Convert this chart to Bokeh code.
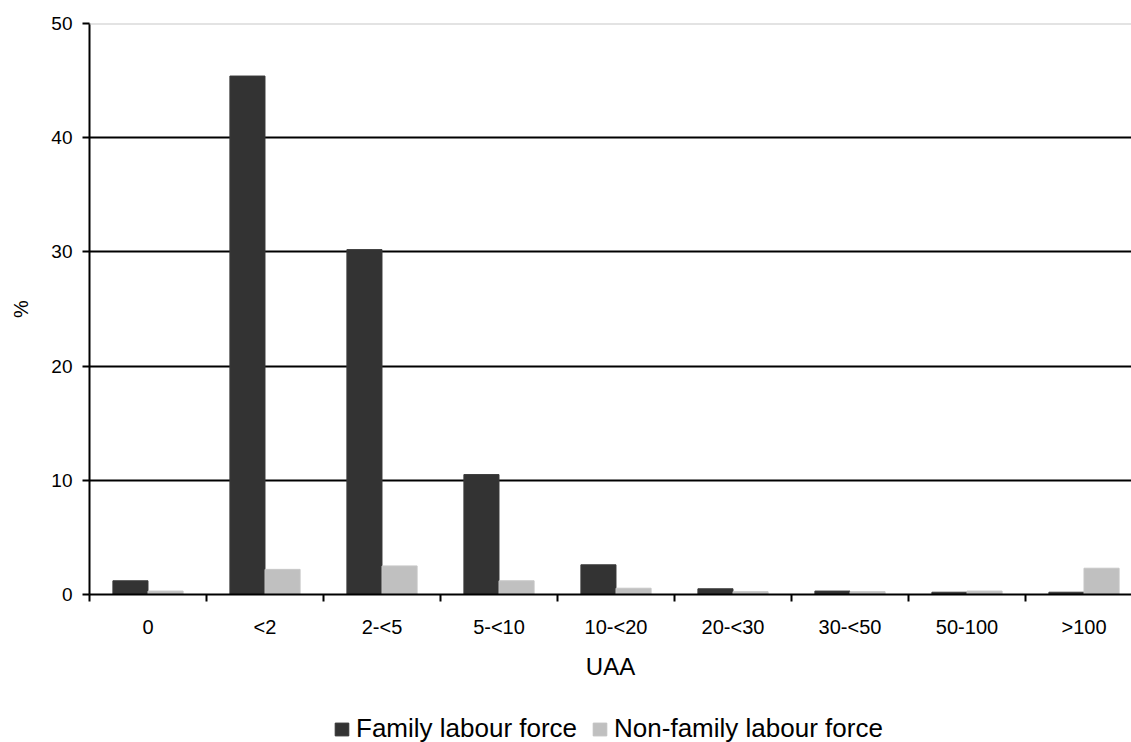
import numpy as np
from bokeh.plotting import figure
from bokeh.layouts import column
from bokeh.models import Range1d, FixedTicker, Span, Legend, LegendItem, ColumnDataSource
from bokeh.transform import dodge
from bokeh.embed import file_html
from bokeh.resources import INLINE

categories = ["0", "<2", "2-<5", "5-<10", "10-<20", "20-<30", "30-<50", "50-100", ">100"]
family = [1.2, 45.4, 30.2, 10.5, 2.6, 0.5, 0.3, 0.2, 0.2]
non_family = [0.3, 2.2, 2.5, 1.2, 0.55, 0.25, 0.25, 0.3, 2.3]
y_ticks = [0, 10, 20, 30, 40, 50]
series_names = ["Family labour force", "Non-family labour force"]

FONT = "Liberation Sans"
DARK, LIGHT = "#333333", "#c0c0c0"
n = len(categories)
centers = np.arange(n) + 0.5
src = ColumnDataSource(dict(center=centers, family=family, non_family=non_family))

p = figure(width=1131, height=706,
           x_range=Range1d(0, 8.906), y_range=Range1d(0, 50),
           output_backend="svg", toolbar_location=None,
           min_border_left=89, min_border_right=0, min_border_top=23, min_border_bottom=112)
p.outline_line_color = None
p.background_fill_color = "white"
p.border_fill_color = "white"

# grid
p.xgrid.visible = False
p.ygrid.ticker = FixedTicker(ticks=y_ticks[1:-1])
p.ygrid.grid_line_color = "black"
p.ygrid.grid_line_width = 2
top_line = Span(location=y_ticks[-1], dimension="width", line_color="#c8c8c8", line_width=2)
p.add_layout(top_line)

w = 0.3
r1 = p.vbar(x=dodge("center", -0.15, range=p.x_range), top="family", width=w, source=src,
            fill_color=DARK, line_color="#3a3a3a")
r2 = p.vbar(x=dodge("center", 0.15, range=p.x_range), top="non_family", width=w, source=src,
            fill_color=LIGHT, line_color="#c6c6c6")

# y axis
ya = p.yaxis[0]
ya.ticker = FixedTicker(ticks=y_ticks)
ya.axis_line_width = 2
ya.axis_line_color = "black"
ya.major_tick_out = 7
ya.major_tick_in = 0
ya.major_tick_line_width = 2
ya.minor_tick_line_color = None
ya.major_label_text_font = FONT
ya.major_label_text_font_size = "19px"
ya.major_label_text_color = "black"
ya.major_label_standoff = 10
ya.axis_label = "%"
ya.axis_label_text_font = FONT
ya.axis_label_text_font_size = "20px"
ya.axis_label_text_font_style = "normal"
ya.axis_label_text_color = "black"
ya.axis_label_standoff = 16

# x axis: labels at category centres, tick marks at boundaries
xa = p.xaxis[0]
xa.ticker = FixedTicker(ticks=list(centers), minor_ticks=list(np.arange(n + 1)))
xa.major_label_overrides = {float(c): lab for c, lab in zip(centers, categories)}
xa.major_tick_line_color = None
xa.major_tick_out = 0
xa.major_tick_in = 0
xa.minor_tick_out = 7
xa.minor_tick_in = 0
xa.minor_tick_line_width = 2
xa.minor_tick_line_color = "black"
xa.axis_line_width = 2
xa.axis_line_color = "black"
xa.major_label_text_font = FONT
xa.major_label_text_font_size = "20px"
xa.major_label_text_color = "black"
xa.major_label_standoff = 14
xa.axis_label = "UAA"
xa.axis_label_text_font = FONT
xa.axis_label_text_font_size = "24px"
xa.axis_label_text_font_style = "normal"
xa.axis_label_text_color = "black"
xa.axis_label_standoff = 12

# legend strip below the chart (its frame is aligned with the chart's frame)
lg = figure(width=1131, height=36, x_range=Range1d(0, 1), y_range=Range1d(0, 1),
            output_backend="svg", toolbar_location=None,
            x_axis_location=None, y_axis_location=None,
            min_border_left=0, min_border_right=0, min_border_top=0, min_border_bottom=0)
lg.outline_line_color = None
lg.xgrid.visible = False
lg.ygrid.visible = False
# legend-only renderers: one NaN row each, so nothing is drawn but the key swatch
nan_src = ColumnDataSource(dict(l=np.array([np.nan]), r=np.array([np.nan]),
                                b=np.array([np.nan]), t=np.array([np.nan])))
l1 = lg.quad(left="l", right="r", bottom="b", top="t", source=nan_src, fill_color=DARK, line_color=DARK)
l2 = lg.quad(left="l", right="r", bottom="b", top="t", source=nan_src, fill_color=LIGHT, line_color=LIGHT)
legend = Legend(items=[LegendItem(label=series_names[0], renderers=[l1]),
                       LegendItem(label=series_names[1], renderers=[l2])],
                orientation="horizontal", location=(244, -2),
                label_text_font=FONT, label_text_font_size="26px", label_text_color="black",
                glyph_width=17, glyph_height=16, label_standoff=6, spacing=14,
                padding=0, margin=0, border_line_color=None, background_fill_alpha=0)
lg.add_layout(legend, "center")

layout = column(p, lg, spacing=0)
open("out.html", "w").write(file_html(layout, INLINE))
